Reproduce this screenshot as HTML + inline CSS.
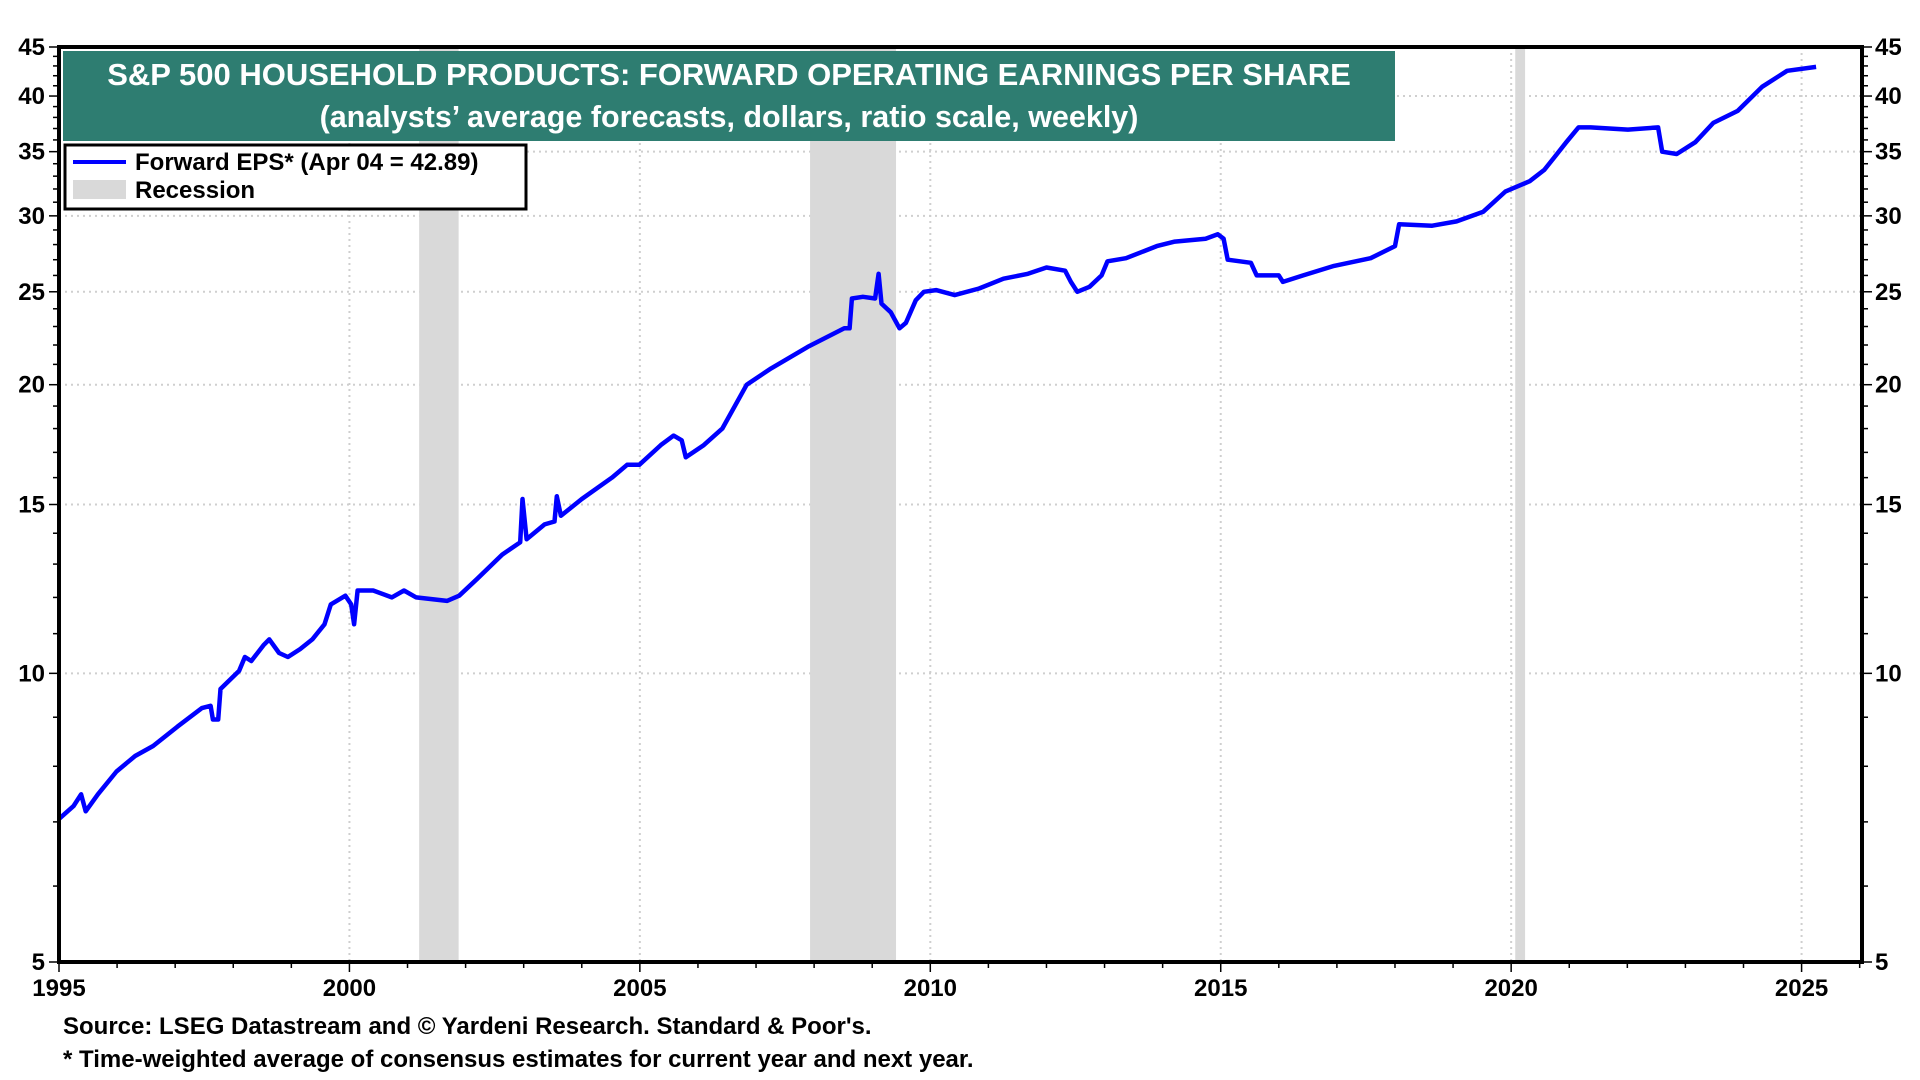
<!DOCTYPE html>
<html><head><meta charset="utf-8"><style>
html,body{margin:0;padding:0;background:#fff;width:1920px;height:1080px;overflow:hidden}
svg text{font-family:"Liberation Sans",Arial,sans-serif;font-weight:bold}
</style></head><body>
<svg id="chart" width="1920" height="1080" xmlns="http://www.w3.org/2000/svg">
<g id="grid"></g>
<g id="rec"></g>
<g id="series"></g>
<g id="axes"></g>
<rect x="63" y="51" width="1332" height="90" fill="#2e7d71"/>
<text x="729" y="85" text-anchor="middle" font-size="31" fill="#fff">S&amp;P 500 HOUSEHOLD PRODUCTS: FORWARD OPERATING EARNINGS PER SHARE</text>
<text x="729" y="127" text-anchor="middle" font-size="30.5" fill="#fff">(analysts’ average forecasts, dollars, ratio scale, weekly)</text>
<g>
<rect x="65" y="145" width="461" height="64" fill="#fff" stroke="#000" stroke-width="3"/>
<line x1="73" y1="162" x2="126" y2="162" stroke="#0000ff" stroke-width="4"/>
<text x="135" y="170" font-size="24">Forward EPS* (Apr 04 = 42.89)</text>
<rect x="73" y="180" width="53" height="19" fill="#d9d9d9"/>
<text x="135" y="198" font-size="24">Recession</text>
</g>
<text x="63" y="1034" font-size="24">Source: LSEG Datastream and © Yardeni Research. Standard &amp; Poor's.</text>
<text x="63" y="1067" font-size="24">* Time-weighted average of consensus estimates for current year and next year.</text>
</svg>
<script>
const years=[1995.00,1995.25,1995.38,1995.46,1995.67,1995.99,1996.31,1996.62,1997.04,1997.46,1997.61,1997.65,1997.74,1997.78,1998.10,1998.20,1998.31,1998.52,1998.62,1998.79,1998.94,1999.15,1999.36,1999.57,1999.68,1999.93,2000.03,2000.08,2000.14,2000.41,2000.73,2000.94,2001.15,2001.68,2001.89,2002.20,2002.63,2002.94,2002.98,2003.05,2003.36,2003.53,2003.57,2003.64,2004.00,2004.52,2004.78,2004.99,2005.36,2005.58,2005.72,2005.79,2006.10,2006.42,2006.84,2007.26,2007.89,2008.52,2008.61,2008.65,2008.84,2009.05,2009.11,2009.16,2009.32,2009.47,2009.58,2009.75,2009.89,2010.10,2010.42,2010.84,2011.26,2011.68,2012.00,2012.32,2012.42,2012.53,2012.74,2012.95,2013.05,2013.37,2013.90,2014.21,2014.74,2014.95,2015.05,2015.12,2015.52,2015.62,2016.00,2016.07,2016.42,2016.95,2017.58,2018.00,2018.07,2018.64,2019.06,2019.52,2019.90,2020.32,2020.57,2020.74,2020.95,2021.16,2021.37,2022.01,2022.53,2022.60,2022.85,2023.17,2023.48,2023.90,2024.32,2024.75,2025.25];
const eps=[7.05,7.27,7.48,7.18,7.48,7.9,8.2,8.4,8.8,9.2,9.25,8.95,8.95,9.63,10.06,10.4,10.3,10.7,10.85,10.5,10.4,10.6,10.85,11.25,11.8,12.05,11.8,11.25,12.2,12.2,12.0,12.2,12.0,11.9,12.05,12.55,13.3,13.7,15.2,13.8,14.3,14.4,15.3,14.6,15.2,16.0,16.5,16.5,17.3,17.7,17.5,16.8,17.3,18.0,20.0,20.8,21.9,22.9,22.9,24.6,24.7,24.6,26.1,24.3,23.8,22.9,23.2,24.5,25.0,25.1,24.8,25.2,25.8,26.1,26.5,26.3,25.6,25.0,25.3,26.0,26.9,27.1,27.9,28.2,28.4,28.7,28.4,27.0,26.8,26.0,26.0,25.6,26.0,26.6,27.1,27.9,29.4,29.3,29.6,30.3,31.8,32.6,33.5,34.5,35.8,37.1,37.1,36.9,37.1,35.0,34.8,35.8,37.5,38.6,40.9,42.5,42.9];
const recStart=[2001.2,2007.93,2020.07];
const recEnd=[2001.88,2009.41,2020.24];
const yTicks=[5,10,15,20,25,30,35,40,45];
const xTicks=[1995,2000,2005,2010,2015,2020,2025];

const L=59,R=1862,T=47,B=962,X0=1995,X1=2026.04,Ymin=5,Ymax=45;
const NS='http://www.w3.org/2000/svg';
function xs(v){return L+(v-X0)/(X1-X0)*(R-L);}
function ys(v){return B-(Math.log(v)-Math.log(Ymin))/(Math.log(Ymax)-Math.log(Ymin))*(B-T);}
function mk(tag,attrs,parent){const e=document.createElementNS(NS,tag);for(const k in attrs)e.setAttribute(k,attrs[k]);parent.appendChild(e);return e;}
const grid=document.getElementById('grid'),rec=document.getElementById('rec'),ser=document.getElementById('series'),ax=document.getElementById('axes');
yTicks.forEach(v=>{
  if(v>Ymin&&v<Ymax){const g=mk('line',{x1:L,x2:R,y1:ys(v),y2:ys(v),stroke:'#cfcfcf','stroke-width':2,'stroke-dasharray':'2,4'},grid);
  
  }
  const t1=mk('text',{x:L-14,y:ys(v)+8,'text-anchor':'end','font-size':24},ax);t1.textContent=v;
  
  
  const t2=mk('text',{x:R+13,y:ys(v)+8,'font-size':24},ax);t2.textContent=v;
  
  
});
for(let v=Ymin;v<=Ymax;v++){
  const major=yTicks.includes(v);
  mk('line',{x1:L-(major?10:6),x2:L,y1:ys(v),y2:ys(v),stroke:'#000','stroke-width':1.5},ax);
  mk('line',{x1:R,x2:R+(major?10:6),y1:ys(v),y2:ys(v),stroke:'#000','stroke-width':1.5},ax);
}
xTicks.forEach(v=>{
  if(v>X0){const g=mk('line',{x1:xs(v),x2:xs(v),y1:T,y2:B,stroke:'#cfcfcf','stroke-width':2,'stroke-dasharray':'2,4'},grid);
  
  }
  const t=mk('text',{x:xs(v),y:996,'text-anchor':'middle','font-size':24},ax);t.textContent=v;
  
  
});
for(let v=1995;v<=2026;v++){mk('line',{x1:xs(v),x2:xs(v),y1:B,y2:B+(v%5===0?10:6),stroke:'#000','stroke-width':1.5},ax);}
recStart.forEach((s,i)=>{
  const r=mk('rect',{x:xs(s),y:T,width:xs(recEnd[i])-xs(s),height:B-T,fill:'#d9d9d9'},rec);
  
  
});
const pts=years.map((y,i)=>xs(y).toFixed(1)+','+ys(eps[i]).toFixed(1)).join(' ');
const pl=mk('polyline',{points:pts,fill:'none',stroke:'#0000ff','stroke-width':4.5,'stroke-linejoin':'round'},ser);


const fr=mk('rect',{x:L,y:T,width:R-L,height:B-T,fill:'none',stroke:'#000','stroke-width':4},ax);


</script>
</body></html>
